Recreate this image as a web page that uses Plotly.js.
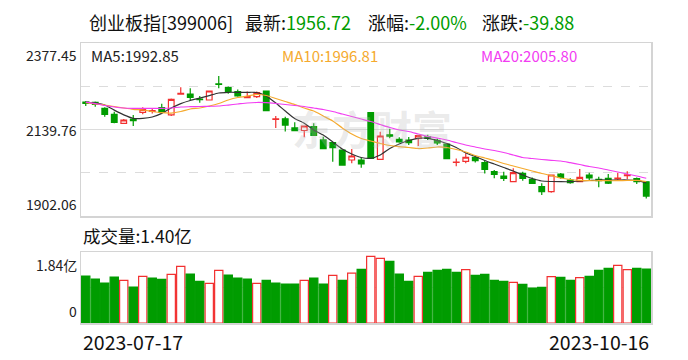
<!DOCTYPE html>
<html><head><meta charset="utf-8">
<script src="https://cdn.plot.ly/plotly-3.0.1.min.js"></script>
<style>html,body{margin:0;padding:0;background:#fff;}#chart{width:688px;height:360px;}</style>
</head><body><div id="chart"></div>
<script>
// ---- data ----
const dates = ["2023-07-17","2023-07-18","2023-07-19","2023-07-20","2023-07-21","2023-07-24","2023-07-25","2023-07-26","2023-07-27","2023-07-28","2023-07-31",
"2023-08-01","2023-08-02","2023-08-03","2023-08-04","2023-08-07","2023-08-08","2023-08-09","2023-08-10","2023-08-11","2023-08-14","2023-08-15","2023-08-16","2023-08-17","2023-08-18","2023-08-21","2023-08-22","2023-08-23","2023-08-24","2023-08-25","2023-08-28","2023-08-29","2023-08-30","2023-08-31",
"2023-09-01","2023-09-04","2023-09-05","2023-09-06","2023-09-07","2023-09-08","2023-09-11","2023-09-12","2023-09-13","2023-09-14","2023-09-15","2023-09-18","2023-09-19","2023-09-20","2023-09-21","2023-09-22","2023-09-25","2023-09-26","2023-09-27","2023-09-28",
"2023-10-09","2023-10-10","2023-10-11","2023-10-12","2023-10-13","2023-10-16"];
const openP  = [2215.3,2214.5,2198,2181.5,2156.8,2168,2187,2189.5,2199.6,2180,2237,2237.3,2223.5,2220.8,2265,2255,2244,2227,2230,2245.6,2167.5,2169,2144,2137,2147.5,2111,2103.5,2083.4,2055.9,2055.9,2186,2057.8,2125,2112.8,2110.9,2115.5,2120,2110,2099.8,2049.5,2052.4,2063,2048.5,2023.8,2012,1996.3,2019.4,2002.8,1982.6,1968.8,2017.5,2001,1996.3,2014.7,2003,2005.6,2004,2013,2005,1996];
const highP  = [2218,2217,2200.7,2188.6,2168.6,2179.6,2200.7,2198,2210.6,2225,2256,2253,2231.5,2247,2287,2258,2250,2244,2244,2247,2177,2175,2159.5,2150,2157,2120,2106,2084,2086,2063,2187,2133.7,2142,2118.3,2119,2124,2125,2115,2100.5,2060,2074.4,2067,2054,2028.5,2023.8,2033,2023.8,2008,1991.9,2015,2020,2006,2031,2021,2010,2017.5,2021,2025,2008,1997];
const lowP   = [2204.3,2202,2175,2156.8,2155,2149.4,2181.5,2184,2185,2177,2235,2219,2213.5,2220,2253,2238,2230,2226,2226,2190,2144,2134,2136,2118.3,2122,2086,2051.3,2041,2047,2034.7,2059,2056,2115.6,2103.5,2097,2094.5,2111,2097,2059,2039,2047,2049,2019,2005.6,1998.2,1995,1999,1990,1959.8,1966,2004.2,1991,1995,2001,1981,1990,2001,2003,1990,1950];
const closeP = [2211.2,2209,2181.5,2159.5,2165.8,2164,2195.3,2191.5,2187,2222.7,2239,2228.3,2222,2245.5,2264,2243.6,2232,2230,2241,2191.4,2169,2152,2136.5,2149.4,2123.8,2087,2089.7,2042,2066.9,2045,2060.6,2121.9,2121.5,2105.4,2103.5,2122.7,2115.5,2103,2059.5,2050.5,2063.5,2054,2030.4,2016.6,2005.6,2021,2005.6,1991.9,1968.8,2014.7,2008.3,1993.6,2008.3,2007,1999.5,1992,2006,2015,1996.6,1956.72];
const prevCloseBefore = 2220;
const volume = [1.218,1.140,1.037,1.192,1.106,0.933,1.209,1.166,1.132,1.261,1.469,1.270,1.080,1.028,1.365,1.244,1.166,1.140,1.028,1.106,1.037,1.011,1.011,1.106,1.166,1.011,1.235,1.106,1.29,1.391,1.728,1.676,1.598,1.270,1.080,1.209,1.313,1.365,1.391,1.313,1.382,1.235,1.261,1.106,1.080,1.054,1.002,0.907,0.924,1.201,1.183,1.106,1.175,1.209,1.365,1.417,1.494,1.382,1.417,1.40];
const ma5  = [2215,2212,2207,2193,2180,2170.5,2170.5,2174,2184,2199,2211,2219.5,2226,2233,2240,2242,2242,2242,2241.5,2232,2212.6,2190.6,2170,2157,2138.4,2124.6,2105.4,2086,2072.4,2062.8,2060.6,2069.7,2087.3,2100,2109.5,2115.6,2115.6,2109.5,2101.3,2090.3,2075.2,2065.6,2054.6,2045,2035.3,2025.7,2014.7,2005,1998.2,1996.8,1996.3,1996.3,1998.2,1999.6,2001,2001,2001,2001,2000,1992.85];
const ma10 = [2213.4,2209.8,2207,2203,2198.8,2195.2,2193.3,2189.2,2186,2185,2189.2,2196,2198.8,2204.3,2211.2,2220.8,2227.6,2231.8,2235.9,2233.2,2225,2216.7,2208.5,2198.8,2190.6,2176.9,2163.1,2144,2127.4,2115,2108.2,2101.3,2095.8,2092.5,2090.3,2087.5,2088.9,2091.7,2090.3,2084.8,2077.9,2068.3,2061.4,2054.6,2046.3,2039.4,2032.6,2025.7,2018.8,2013.3,2006.5,2002.3,2000.1,1999,1999,1999,1999,1999.6,2000.1,1996.81];
const ma20 = [2215,2211,2205.7,2201.6,2198.8,2198,2198,2198,2198,2198.8,2201.6,2202.4,2203,2203.5,2204.3,2207,2209.8,2212.6,2214,2213.4,2211.2,2208.5,2205.7,2203,2198.8,2194.7,2189.2,2182.3,2175.5,2168.6,2161.7,2153.5,2145.3,2138.4,2134.3,2127.4,2120.5,2116.4,2110.9,2104,2097.2,2091.7,2086.2,2082,2076.5,2069.7,2062.8,2060,2057.3,2055.1,2053.2,2048.5,2043.6,2038.1,2034,2028.5,2023,2017.5,2012,2005.8];
const priceTicks = [2377.45, 2139.76, 1902.06];
const volMax = 1.84;
const indexName = "创业板指[399006]";
const latest = "1956.72", pctChg = "-2.00%", chg = "-39.88", volLatest = "1.40亿";

// ---- styles ----
const RED = "#f23030", GREEN = "#009c00";
const n = dates.length;
const volColors = closeP.map((c, i) => c >= (i === 0 ? prevCloseBefore : closeP[i - 1]) ? "up" : "down");

const traces = [
  {type: "candlestick", x: dates, open: openP, high: highP, low: lowP, close: closeP,
   xaxis: "x", yaxis: "y", hoverinfo: "skip", whiskerwidth: 0,
   increasing: {line: {color: RED, width: 1.2}, fillcolor: "#ffffff"},
   decreasing: {line: {color: GREEN, width: 1.2}, fillcolor: GREEN}},
  {type: "scatter", mode: "lines", x: dates, y: ma5, line: {color: "#333333", width: 1.2, shape: "spline", smoothing: 0.6}, hoverinfo: "skip", xaxis: "x", yaxis: "y"},
  {type: "scatter", mode: "lines", x: dates, y: ma10, line: {color: "#f5aa2e", width: 1.2, shape: "spline", smoothing: 0.6}, hoverinfo: "skip", xaxis: "x", yaxis: "y"},
  {type: "scatter", mode: "lines", x: dates, y: ma20, line: {color: "#f23cf2", width: 1.2, shape: "spline", smoothing: 0.6}, hoverinfo: "skip", xaxis: "x", yaxis: "y"},
  {type: "bar", x: dates, y: volume, xaxis: "x2", yaxis: "y2", hoverinfo: "skip",
   marker: {color: volColors.map(d => d === "up" ? "#ffffff" : GREEN),
            line: {color: volColors.map(d => d === "up" ? RED : GREEN), width: 1.2}}}
];

const W = 570, H = 280; // plot area in px
const px = x => (x - 81) / W;           // page x -> paper x
const py = y => (323 - y) / H;          // page y -> paper y
const font = "'Noto Sans CJK SC', 'Noto Sans', sans-serif";
const gridC = "#dcdcdc";
const mid = (priceTicks[0] + priceTicks[2]) / 2;

const ann = [];
const addTitle = (x, label, val) => ann.push({xref: "paper", yref: "paper", x: px(x), y: py(22), xanchor: "left", yanchor: "middle", showarrow: false,
  text: label + (val ? '<span style="color:' + GREEN + '">' + val + '</span>' : ''), font: {family: font, size: 18, color: "#111"}});
addTitle(87, indexName, "");
addTitle(243, "最新:", latest);
addTitle(366, "涨幅:", pctChg);
addTitle(480, "涨跌:", chg);
// MA legends
const legendAnn = (x, txt, c) => ann.push({xref: "paper", yref: "paper", x: px(x), y: py(56), xanchor: "left", yanchor: "middle", showarrow: false, text: txt, font: {family: font, size: 15, color: c}});
legendAnn(89, "MA5:" + ma5[n - 1].toFixed(2), "#222");
legendAnn(280, "MA10:" + ma10[n - 1].toFixed(2), "#f5aa2e");
legendAnn(479, "MA20:" + ma20[n - 1].toFixed(2), "#f23cf2");
// price tick labels
priceTicks.forEach((v, i) => ann.push({xref: "paper", yref: "y", x: px(79), y: v, xanchor: "right",
  yanchor: i === 0 ? "top" : (i === 1 ? "middle" : "bottom"), yshift: i === 0 ? 0 : (i === 2 ? 0 : 0), showarrow: false,
  text: v.toFixed(2), font: {family: font, size: 14, color: "#222"}}));
// volume labels
ann.push({xref: "paper", yref: "paper", x: px(81), y: py(235), xanchor: "left", yanchor: "middle", showarrow: false, text: "成交量:" + volLatest, font: {family: font, size: 17.5, color: "#111"}});
ann.push({xref: "paper", yref: "y2", x: px(79), y: volMax, xanchor: "right", yanchor: "top", yshift: -1, showarrow: false, text: volMax.toFixed(2) + "亿", font: {family: font, size: 14, color: "#222"}});
ann.push({xref: "paper", yref: "y2", x: px(79), y: 0, xanchor: "right", yanchor: "bottom", yshift: 0, showarrow: false, text: "0", font: {family: font, size: 14, color: "#222"}});
// dates
ann.push({xref: "paper", yref: "paper", x: 0, y: py(341), xanchor: "left", yanchor: "middle", showarrow: false, text: dates[0], font: {family: font, size: 19.5, color: "#111"}});
ann.push({xref: "paper", yref: "paper", x: 1, y: py(341), xanchor: "right", yanchor: "middle", showarrow: false, text: dates[n - 1], font: {family: font, size: 19.5, color: "#111"}});
// watermark
ann.push({xref: "paper", yref: "paper", x: px(372), y: py(128), xanchor: "center", yanchor: "middle", showarrow: false, text: "<b>东方财富</b>", font: {family: font, size: 40, color: "rgba(185,185,185,0.3)"}});

const layout = {
  width: 688, height: 360, margin: {l: 81, r: 37, t: 43, b: 37},
  paper_bgcolor: "#fff", plot_bgcolor: "#fff", showlegend: false, bargap: 0.13, boxgap: 0.15,
  xaxis: {type: "category", domain: [0, 1], anchor: "y", range: [-0.5, n - 0.5], showticklabels: false, ticks: "", showgrid: false,
          showline: true, mirror: true, linecolor: "#d4d4d4", linewidth: 1.5, rangeslider: {visible: false}, fixedrange: true},
  xaxis2: {type: "category", domain: [0, 1], anchor: "y2", range: [-0.5, n - 0.5], showticklabels: false, ticks: "", showgrid: false,
          showline: true, mirror: true, linecolor: "#d4d4d4", linewidth: 1.5},
  yaxis: {domain: [py(216), 1], range: [priceTicks[2], priceTicks[0]], showticklabels: false, ticks: "", zeroline: false,
          tickmode: "array", tickvals: [mid], showgrid: true, gridcolor: gridC, gridwidth: 1,
          minor: {tickmode: "array", tickvals: [(priceTicks[0] + mid) / 2, (priceTicks[2] + mid) / 2], showgrid: true, gridcolor: gridC, griddash: "dash", gridwidth: 1},
          showline: true, mirror: true, linecolor: "#d4d4d4", linewidth: 1.5},
  yaxis2: {domain: [0, py(252)], range: [0, volMax], showticklabels: false, ticks: "", zeroline: false,
          tickmode: "array", tickvals: [volMax / 2], showgrid: true, gridcolor: "#e4e4e4", gridwidth: 1,
          showline: true, mirror: true, linecolor: "#d4d4d4", linewidth: 1.5},
  annotations: ann
};
Plotly.newPlot("chart", traces, layout, {staticPlot: true, displayModeBar: false});
</script></body></html>
